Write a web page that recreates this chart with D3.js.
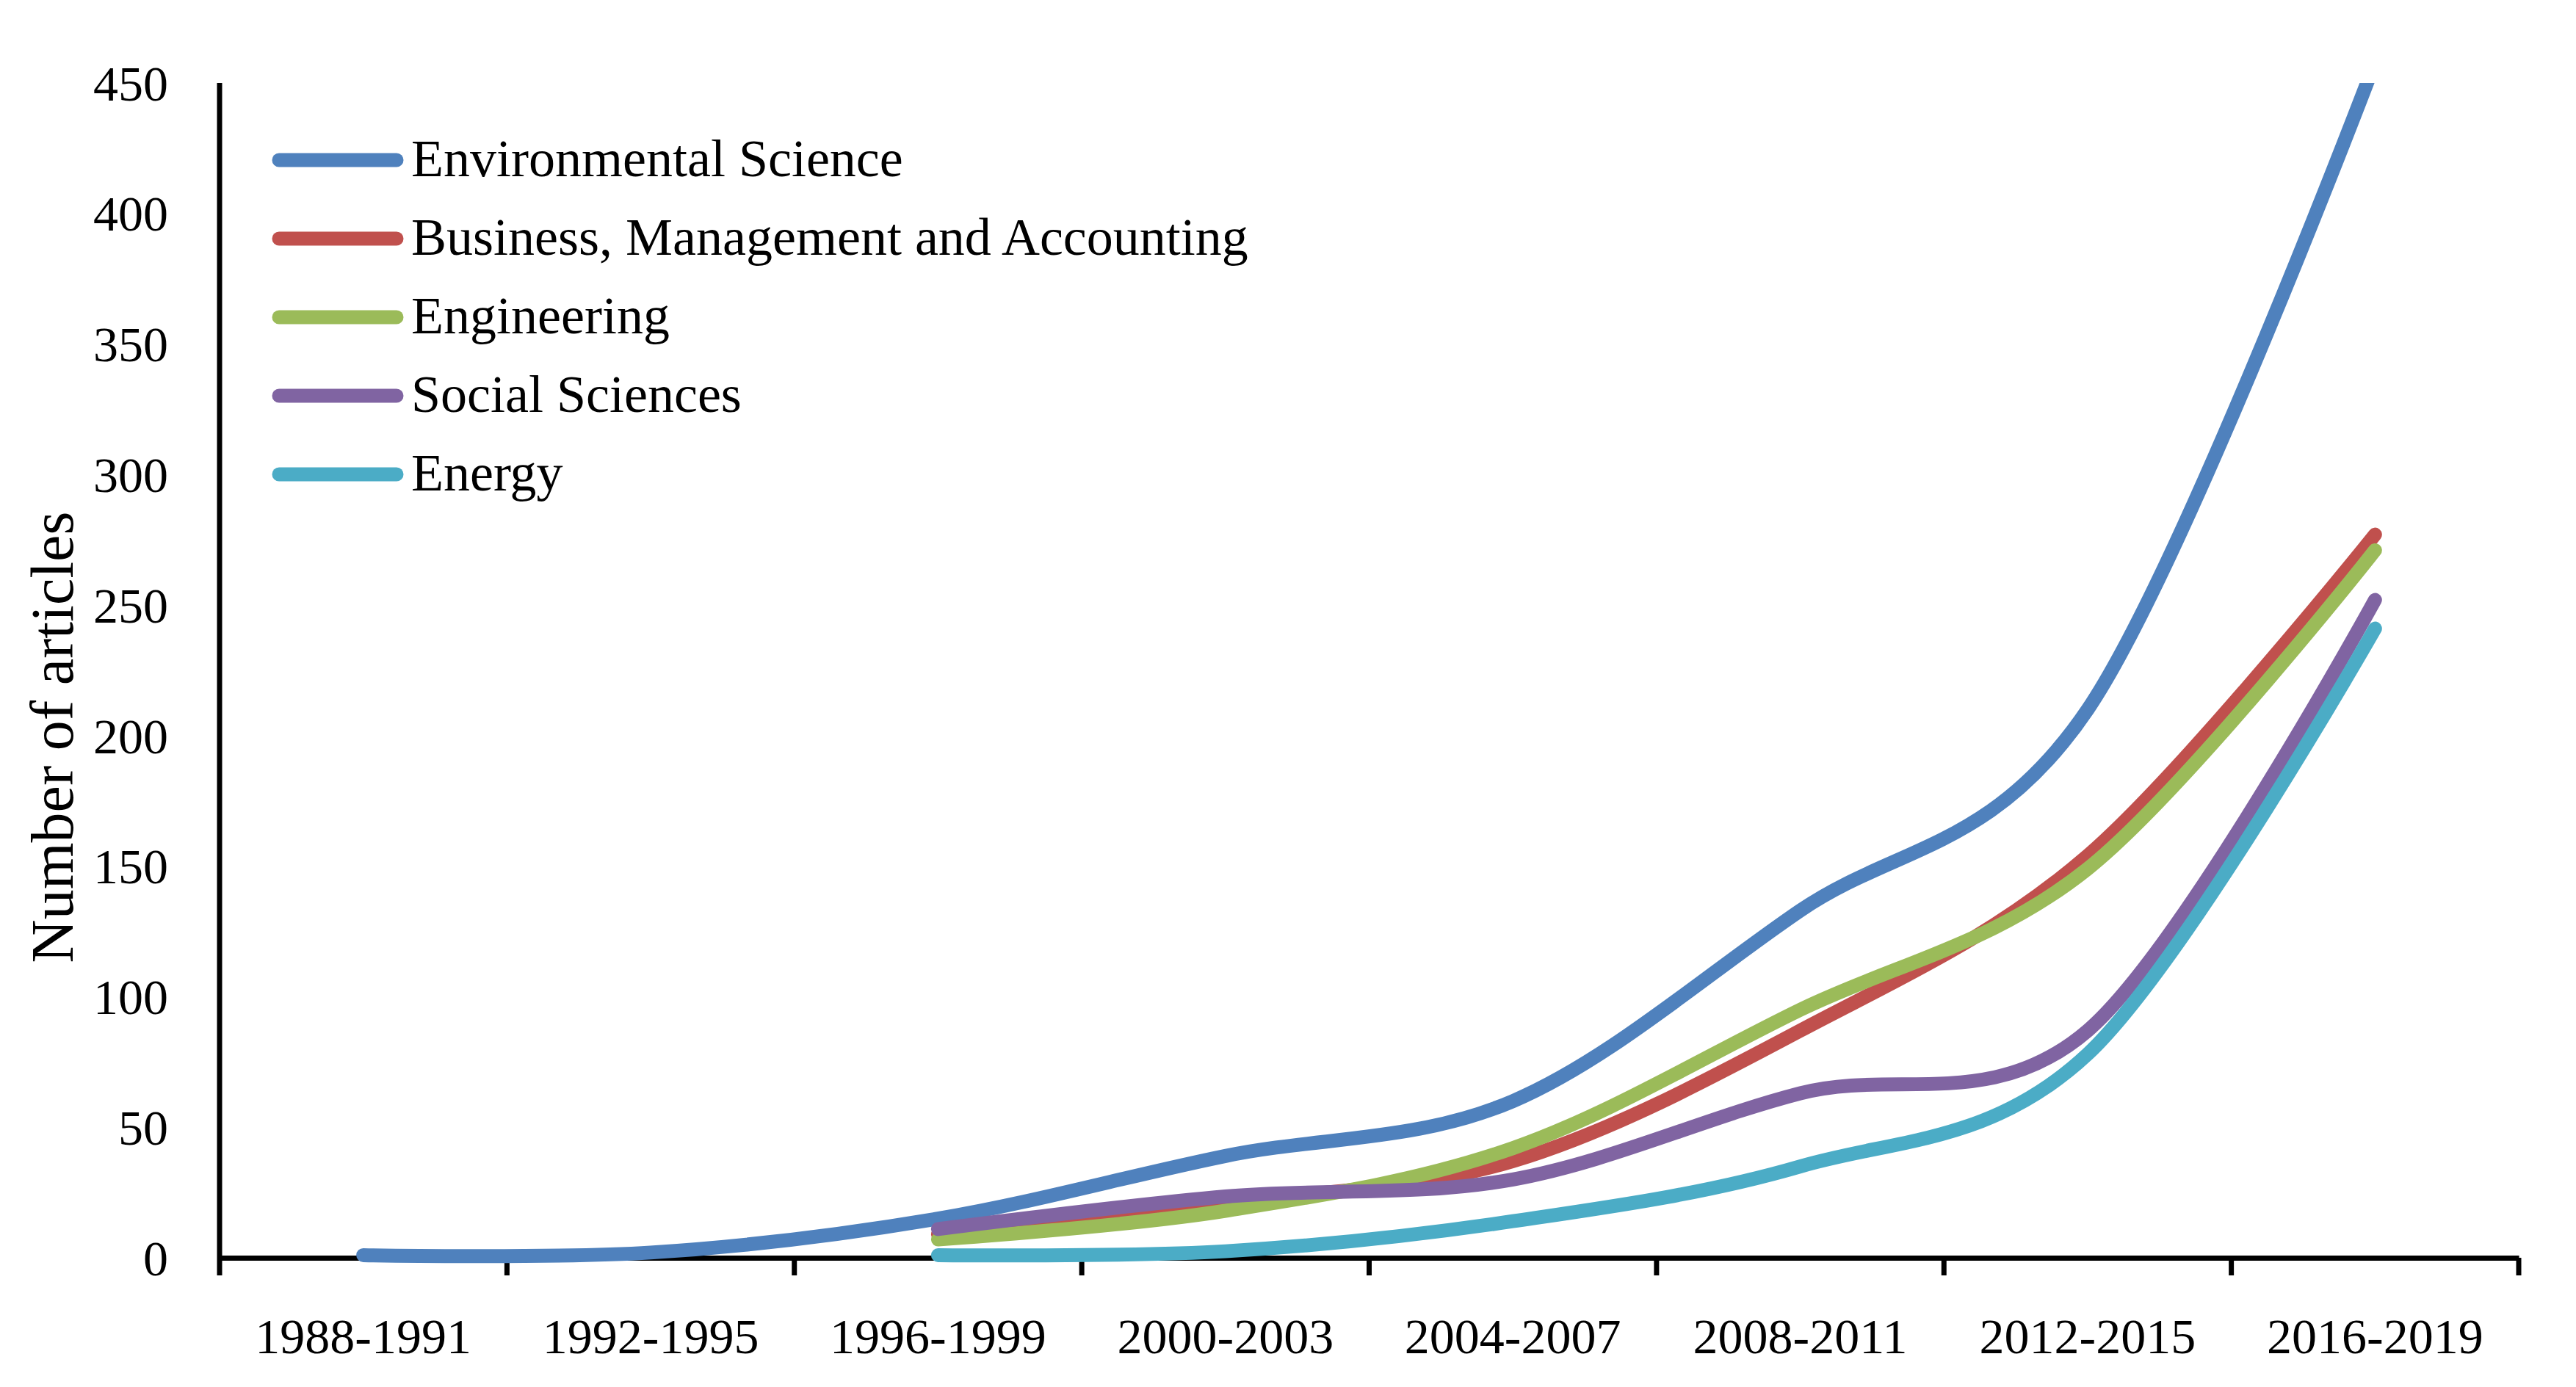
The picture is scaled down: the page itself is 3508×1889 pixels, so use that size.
<!DOCTYPE html>
<html>
<head>
<meta charset="utf-8">
<script src="https://cdn.jsdelivr.net/npm/d3@7"></script>
<style>
  body { margin: 0; background: #fff; }
  text { font-family: "Liberation Serif", "Times New Roman", serif; fill: #000; }
</style>
</head>
<body>
<div id="chart"></div>
<script>
// categories (4-year periods)
var periods = ["1988-1991", "1992-1995", "1996-1999", "2000-2003",
               "2004-2007", "2008-2011", "2012-2015", "2016-2019"];
var yTicks = [0, 50, 100, 150, 200, 250, 300, 350, 400, 450];

// series values (null = no data for that period)
var envScience  = [1, 2, 15, 39, 60, 133, 210, 458];
var business    = [null, null, 9, 21, 37, 87, 154, 277];
var engineering = [null, null, 7, 18, 42, 95, 149, 271];
var socialSci   = [null, null, 11, 23.5, 30, 63, 87, 252];
var energy      = [null, null, 1, 2.5, 14, 35, 78, 241];

var seriesNames  = ["Environmental Science", "Business, Management and Accounting",
                    "Engineering", "Social Sciences", "Energy"];
var seriesColors = ["#4F81BD", "#C0504D", "#9BBB59", "#8064A2", "#4BACC6"];
var seriesValues = [envScience, business, engineering, socialSci, energy];

function drawChart() {
    var W = 3508, H = 1889;
    var plotLeft = 299, plotRight = 3430, plotTop = 113, plotBottom = 1713;

    var svg = d3.select("#chart").append("svg")
        .attr("width", W)
        .attr("height", H);

    var x = d3.scaleBand().domain(periods).range([plotLeft, plotRight]);
    var y = d3.scaleLinear().domain([0, 450]).range([plotBottom, plotTop]);

    // clip lines at the top of the plot area
    svg.append("clipPath").attr("id", "plotClip")
      .append("rect")
        .attr("x", 0).attr("y", plotTop)
        .attr("width", W).attr("height", H - plotTop);

    var line = d3.line()
        .x(function (d) { return x(d.p) + x.bandwidth() / 2; })
        .y(function (d) { return y(d.v); })
        .curve(d3.curveCardinal.tension(0));

    // y axis (line + labels, no tick marks)
    var yAxis = d3.axisLeft(y).tickValues(yTicks).tickSize(0).tickPadding(70).tickSizeOuter(0);
    var gy = svg.append("g")
        .attr("transform", "translate(" + plotLeft + ",0)")
        .call(yAxis);
    gy.select(".domain").attr("stroke", "#000").attr("stroke-width", 7)
        .attr("d", "M0," + plotTop + "V" + (plotBottom + 24));
    gy.selectAll("text")
        .attr("font-family", "Liberation Serif")
        .style("font-size", "68px")
        .attr("dy", "0.34em");

    // x axis
    var xAxis = d3.axisBottom(x).tickSize(0).tickPadding(0).tickSizeOuter(0);
    var gx = svg.append("g")
        .attr("transform", "translate(0," + plotBottom + ")")
        .call(xAxis);
    gx.select(".domain").attr("stroke", "#000").attr("stroke-width", 7);
    gx.selectAll("text")
        .attr("font-family", "Liberation Serif")
        .style("font-size", "68px")
        .attr("y", 130)
        .attr("dy", 0);

    // tick marks on category boundaries
    var bounds = periods.map(function (p) { return x(p); }).concat([x.range()[1]]);
    svg.append("g").selectAll("line").data(bounds.slice(1))
      .enter().append("line")
        .attr("x1", function (d) { return d; })
        .attr("x2", function (d) { return d; })
        .attr("y1", plotBottom)
        .attr("y2", plotBottom + 24)
        .attr("stroke", "#000")
        .attr("stroke-width", 7);

    // y axis title
    svg.append("text")
        .attr("transform", "translate(99,1004) rotate(-90)")
        .style("text-anchor", "middle")
        .style("font-size", "82px")
        .text("Number of articles");

    // series lines
    var gLines = svg.append("g").attr("clip-path", "url(#plotClip)");
    seriesValues.forEach(function (vals, i) {
        var pts = periods.map(function (p, j) { return {p: p, v: vals[j]}; })
            .filter(function (d) { return d.v !== null; });
        gLines.append("path")
            .datum(pts)
            .attr("d", line)
            .attr("fill", "none")
            .attr("stroke", seriesColors[i])
            .attr("stroke-width", 19)
            .attr("stroke-linecap", "round")
            .attr("stroke-linejoin", "round");
    });

    // legend
    var legend = svg.append("g");
    seriesNames.forEach(function (name, i) {
        var ly = 218 + i * 107;
        legend.append("line")
            .attr("x1", 380).attr("x2", 540)
            .attr("y1", ly).attr("y2", ly)
            .attr("stroke", seriesColors[i])
            .attr("stroke-width", 19)
            .attr("stroke-linecap", "round");
        legend.append("text")
            .attr("x", 560)
            .attr("y", ly + 22)
            .style("font-size", "72px")
            .text(name);
    });
}

drawChart();
</script>
</body>
</html>
